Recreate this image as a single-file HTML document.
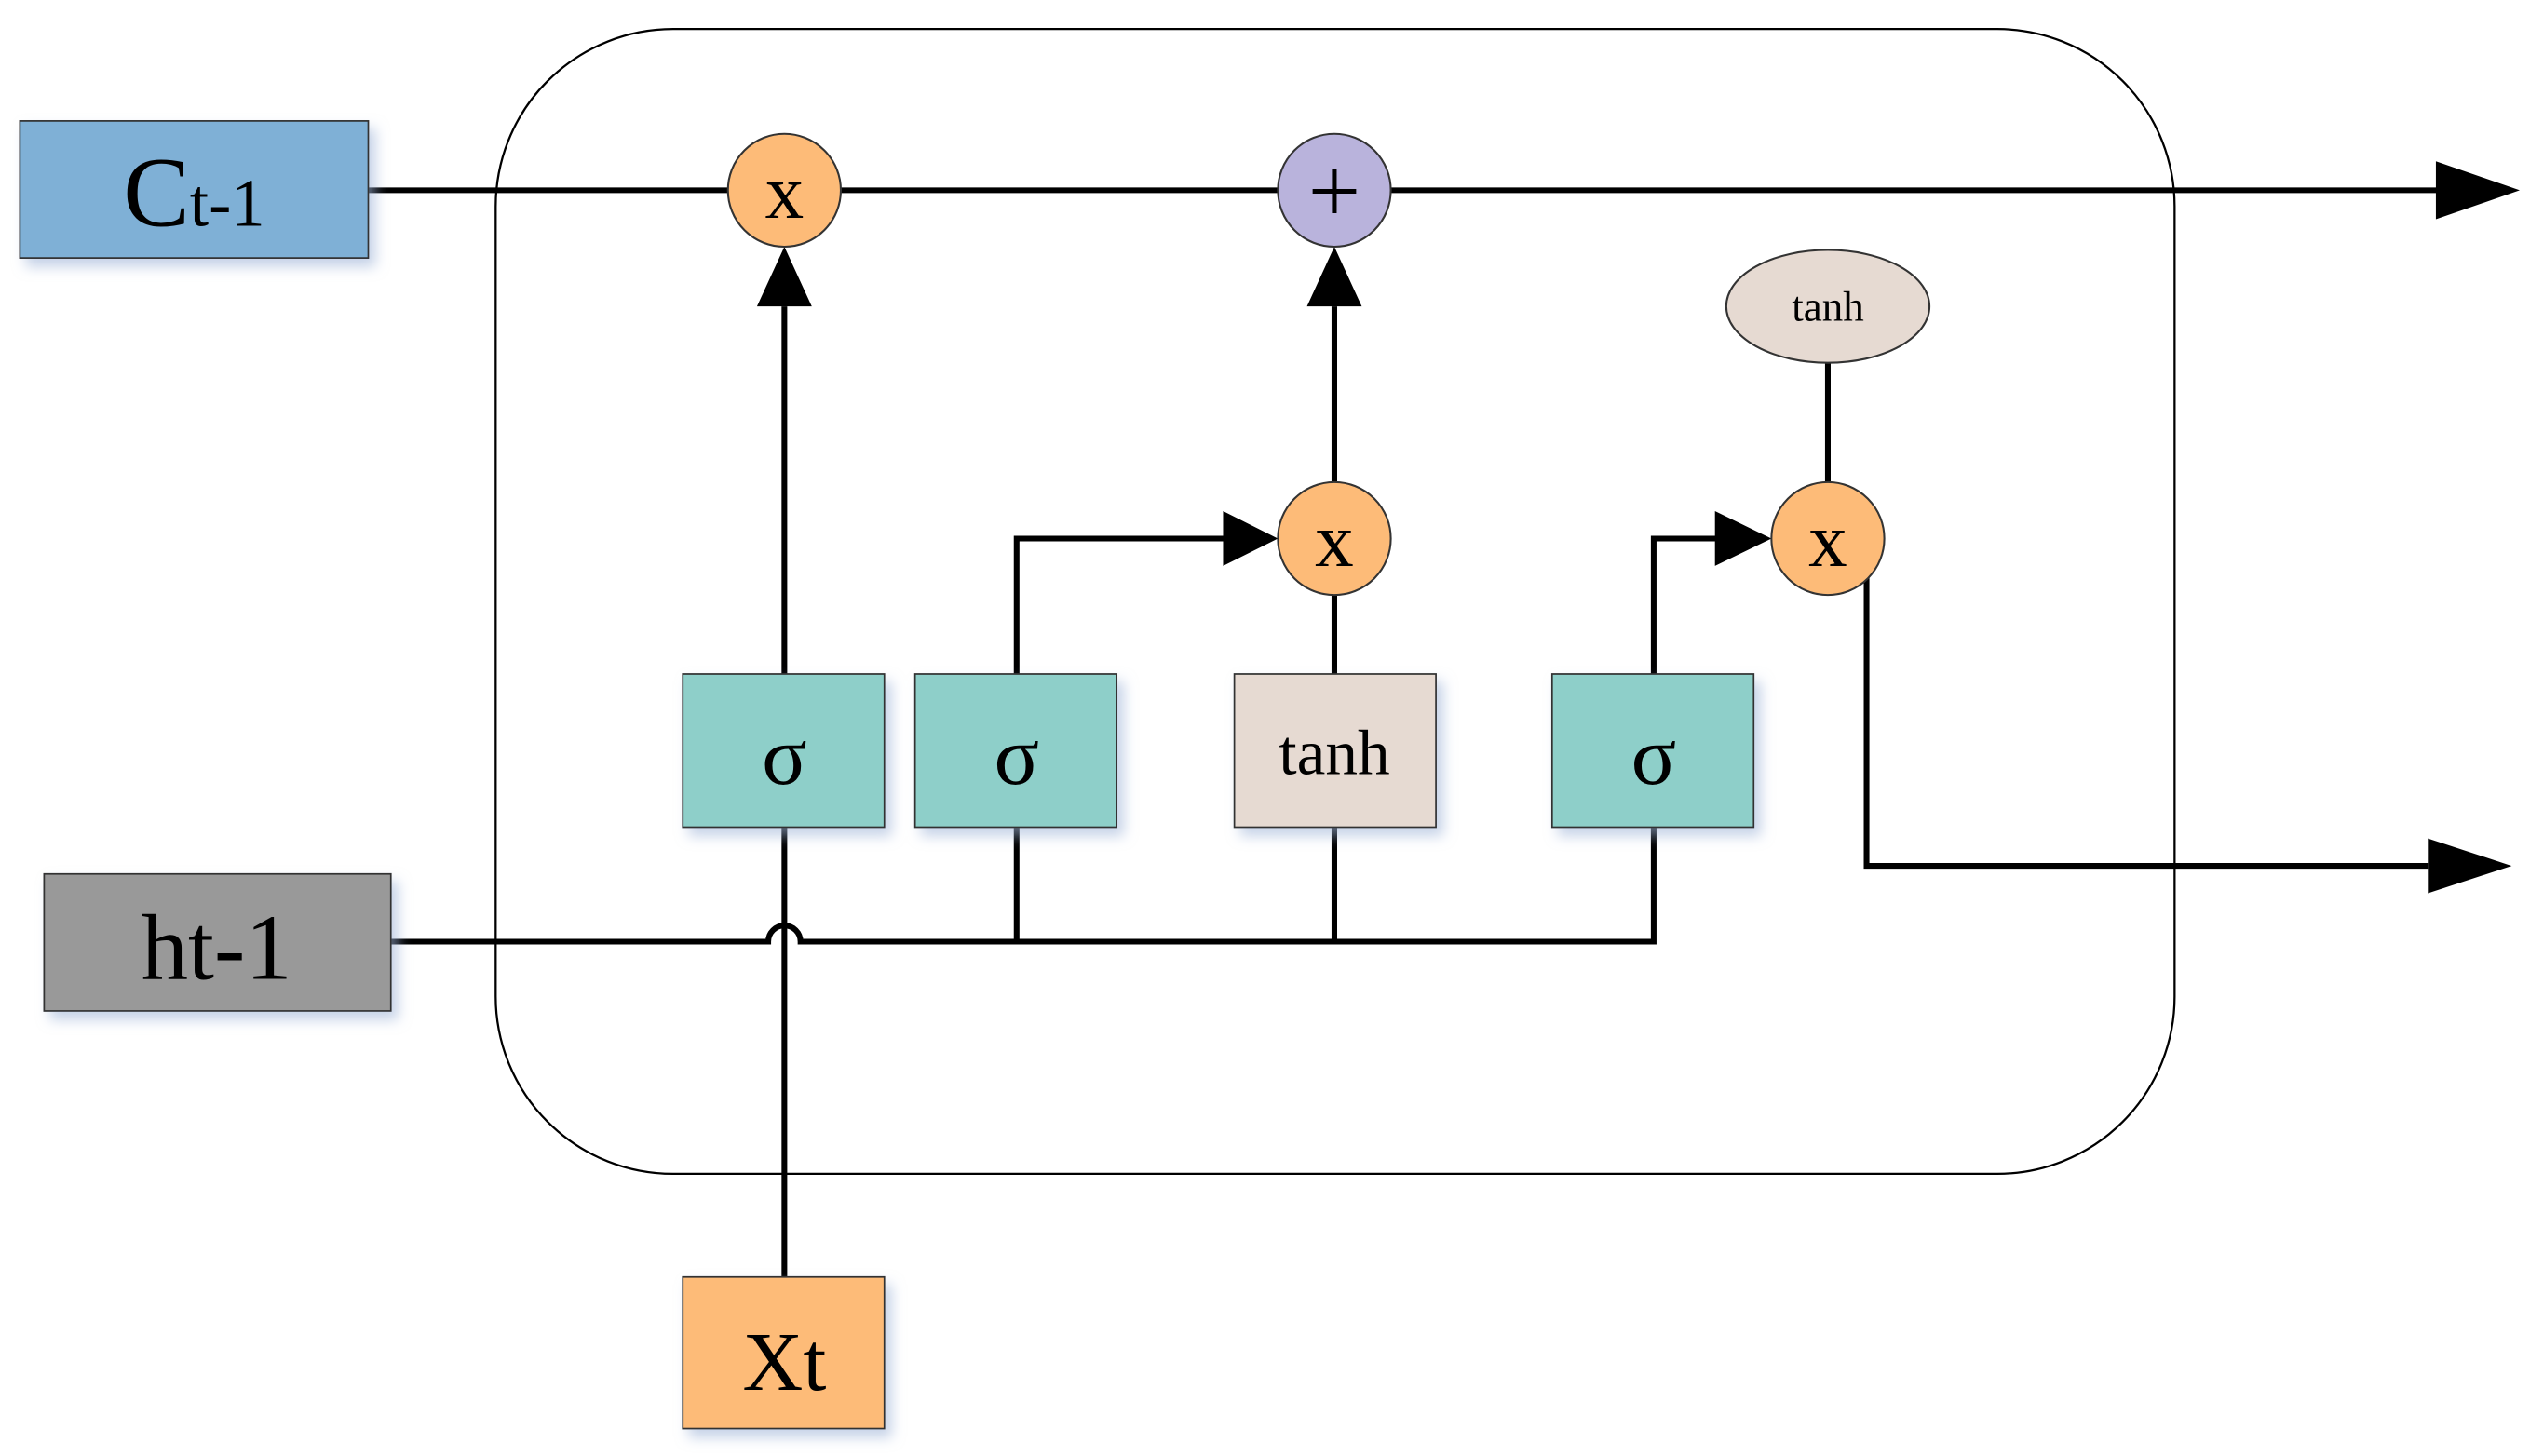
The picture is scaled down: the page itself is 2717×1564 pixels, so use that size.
<!DOCTYPE html>
<html><head><style>html,body{margin:0;padding:0;background:#fff}svg{display:block}</style></head>
<body>
<svg width="2717" height="1564" viewBox="0 0 1568 903" xmlns="http://www.w3.org/2000/svg" font-family="Liberation Serif, serif">
<defs>
<filter id="sh" x="-20%" y="-20%" width="150%" height="150%"><feDropShadow dx="4" dy="5" stdDeviation="4" flood-color="#9fb4d8" flood-opacity="0.6"/></filter>
</defs>
<rect x="307" y="18" width="1041" height="710" rx="110" ry="110" fill="none" stroke="#000" stroke-width="1.3"/>
<g stroke="#000" stroke-width="3.5" fill="none">
<line x1="228" y1="118" x2="1515" y2="118"/>
<line x1="486" y1="418" x2="486" y2="190"/>
<line x1="827" y1="299" x2="827" y2="190"/>
<polyline points="630,418 630,334 760,334"/>
<line x1="827" y1="418" x2="827" y2="369"/>
<polyline points="1025,418 1025,334 1065,334"/>
<line x1="1133" y1="225" x2="1133" y2="299"/>
<polyline points="1157,358 1157,537 1505,537"/>
<path d="M242,584 H476 A10,10 0 0 1 496,584 H1025 V513"/>
<line x1="630" y1="513" x2="630" y2="584"/>
<line x1="827" y1="513" x2="827" y2="584"/>
<line x1="486" y1="513" x2="486" y2="792"/>
</g>
<g fill="#000">
<path d="M1510,100 L1562,118 L1510,136z"/>
<path d="M1505,520 L1557,537 L1505,554z"/>
<path d="M469,190 L486,153 L503,190z"/>
<path d="M810,190 L827,153 L844,190z"/>
<path d="M758,317 L792,334 L758,351z"/>
<path d="M1063,317 L1098,334 L1063,351z"/>
</g>
<g stroke="#333" stroke-width="1" filter="url(#sh)">
<rect x="12" y="75" width="216" height="85" fill="#7fb0d6"/>
<rect x="27" y="542" width="215" height="85" fill="#999"/>
<rect x="423" y="792" width="125" height="94" fill="#fdbb78"/>
<rect x="423" y="418" width="125" height="95" fill="#8ecfc9"/>
<rect x="567" y="418" width="125" height="95" fill="#8ecfc9"/>
<rect x="765" y="418" width="125" height="95" fill="#e6dad2"/>
<rect x="962" y="418" width="125" height="95" fill="#8ecfc9"/>
</g>
<g stroke="#333" stroke-width="1.2">
<circle cx="486" cy="118" r="35" fill="#fdbb78"/>
<circle cx="827" cy="118" r="35" fill="#b9b3dc"/>
<circle cx="827" cy="334" r="35" fill="#fdbb78"/>
<circle cx="1133" cy="334" r="35" fill="#fdbb78"/>
<ellipse cx="1133" cy="190" rx="63" ry="35" fill="#e6dad2"/>
</g>
<g text-anchor="middle" fill="#000">
<text x="120" y="140"><tspan font-size="62">C</tspan><tspan font-size="42">t-1</tspan></text>
<text x="134" y="607" font-size="58">ht-1</text>
<text x="486" y="862" font-size="52">Xt</text>
<text x="486" y="486" font-size="52">σ</text>
<text x="630" y="486" font-size="52">σ</text>
<text x="827" y="480" font-size="40">tanh</text>
<text x="1025" y="486" font-size="52">σ</text>
<text x="1133" y="199" font-size="26">tanh</text>
<text x="486" y="135" font-size="48">x</text>
<text x="827" y="351" font-size="48">x</text>
<text x="1133" y="351" font-size="48">x</text>
<text x="827" y="138" font-size="58">+</text>
</g>
</svg>
</body></html>
